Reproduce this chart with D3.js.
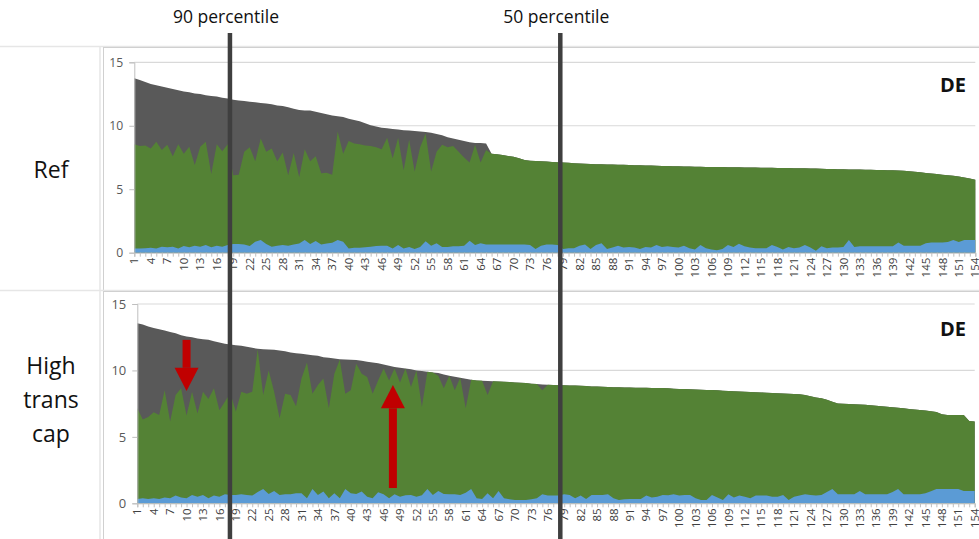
<!DOCTYPE html>
<html>
<head>
<meta charset="utf-8">
<script src="https://cdn.jsdelivr.net/npm/d3@7"></script>
<style>
  body { margin: 0; background: #fff; }
  svg { display: block; font-family: "Open Sans", sans-serif; }
</style>
</head>
<body>
<svg id="chart" width="979" height="539"></svg>
<script>
// categories 1..154, one label every 3rd
var categories = d3.range(1, 155);
var yTicks = [0, 5, 10, 15];

// Ref scenario: stacked levels
var refTotal = [
  13.75, 13.6, 13.45, 13.3, 13.2, 13.1, 13.0, 12.9, 12.8, 12.7,
  12.65, 12.55, 12.5, 12.4, 12.35, 12.3, 12.2, 12.15, 12.05, 12.0,
  11.95, 11.9, 11.85, 11.8, 11.75, 11.7, 11.6, 11.55, 11.45, 11.35,
  11.25, 11.2, 11.2, 11.1, 11.0, 10.9, 10.8, 10.75, 10.7, 10.55,
  10.45, 10.35, 10.2, 10.05, 9.95, 9.85, 9.8, 9.75, 9.7, 9.65,
  9.62, 9.58, 9.55, 9.5, 9.45, 9.35, 9.25, 9.1, 9.0, 8.9,
  8.8, 8.7, 8.65, 8.65, 8.6, 7.8, 7.75, 7.7, 7.62, 7.55,
  7.45, 7.3, 7.25, 7.22, 7.2, 7.18, 7.15, 7.12, 7.1, 7.08,
  7.05, 7.02, 7.0, 6.98, 6.97, 6.96, 6.95, 6.94, 6.93, 6.92,
  6.9, 6.89, 6.88, 6.87, 6.86, 6.85, 6.84, 6.83, 6.82, 6.81,
  6.8, 6.79, 6.78, 6.77, 6.76, 6.76, 6.75, 6.75, 6.74, 6.74,
  6.73, 6.72, 6.72, 6.71, 6.7, 6.7, 6.69, 6.68, 6.68, 6.67,
  6.66, 6.66, 6.65, 6.64, 6.63, 6.62, 6.6, 6.6, 6.58, 6.57,
  6.56, 6.55, 6.55, 6.54, 6.53, 6.52, 6.51, 6.5, 6.5, 6.48,
  6.45, 6.42, 6.38, 6.33, 6.28, 6.24, 6.2, 6.15, 6.1, 6.06,
  6.0, 5.93, 5.85, 5.75
];
var refGreen = [
  8.55, 8.4, 8.45, 8.2, 8.75, 8.1, 8.5, 7.6, 8.55, 7.8,
  8.35, 6.9, 8.35, 8.75, 6.2, 8.55, 8.0, 8.55, 6.1, 6.15,
  7.95, 8.3, 7.2, 9.0, 7.95, 8.2, 7.2, 7.9, 6.1, 7.85,
  5.95, 8.15, 7.2, 7.6, 6.25, 6.3, 6.15, 9.55, 7.8, 8.8,
  8.6, 8.55, 8.45, 8.4, 8.3, 8.15, 9.05, 7.45, 9.05, 6.5,
  8.9, 6.4, 8.3, 9.4, 6.4, 7.95, 8.5, 8.3, 8.4, 7.95,
  7.5, 7.1, 8.5, 7.1, 8.1, 7.8, 7.75, 7.7, 7.62, 7.55,
  7.45, 7.3, 7.25, 7.22, 7.2, 7.18, 7.15, 7.12, 7.1, 7.08,
  7.05, 7.02, 7.0, 6.98, 6.97, 6.96, 6.95, 6.94, 6.93, 6.92,
  6.9, 6.89, 6.88, 6.87, 6.86, 6.85, 6.84, 6.83, 6.82, 6.81,
  6.8, 6.79, 6.78, 6.77, 6.76, 6.76, 6.75, 6.75, 6.74, 6.74,
  6.73, 6.72, 6.72, 6.71, 6.7, 6.7, 6.69, 6.68, 6.68, 6.67,
  6.66, 6.66, 6.65, 6.64, 6.63, 6.62, 6.6, 6.6, 6.58, 6.57,
  6.56, 6.55, 6.55, 6.54, 6.53, 6.52, 6.51, 6.5, 6.5, 6.48,
  6.45, 6.42, 6.38, 6.33, 6.28, 6.24, 6.2, 6.15, 6.1, 6.06,
  6.0, 5.93, 5.85, 5.75
];
var refBlue = [
  0.34, 0.34, 0.36, 0.39, 0.34, 0.47, 0.42, 0.47, 0.34, 0.52,
  0.42, 0.55, 0.47, 0.6, 0.42, 0.55, 0.47, 0.6, 0.68, 0.68,
  0.65, 0.52, 0.87, 1.0, 0.68, 0.47, 0.55, 0.6, 0.55, 0.65,
  0.73, 1.0, 0.68, 0.92, 0.65, 0.73, 0.78, 1.0, 0.87, 0.34,
  0.39, 0.39, 0.42, 0.47, 0.52, 0.55, 0.55, 0.34, 0.6, 0.34,
  0.45, 0.3, 0.45, 0.9, 0.55, 0.75, 0.45, 0.45, 0.5, 0.5,
  0.55, 0.95, 0.6, 0.75, 0.65, 0.65, 0.65, 0.65, 0.65, 0.65,
  0.65, 0.65, 0.6, 0.3, 0.55, 0.65, 0.65, 0.6, 0.3, 0.35,
  0.35, 0.55, 0.65, 0.3, 0.6, 0.75, 0.3, 0.4, 0.55, 0.4,
  0.45, 0.4, 0.3, 0.45, 0.4, 0.6, 0.45, 0.5, 0.45, 0.4,
  0.55, 0.35, 0.25, 0.6, 0.35, 0.25, 0.2, 0.3, 0.6, 0.45,
  0.7, 0.5, 0.4, 0.35, 0.35, 0.35, 0.6, 0.45, 0.25, 0.45,
  0.35, 0.4, 0.6, 0.4, 0.15, 0.5, 0.35, 0.4, 0.4, 0.45,
  1.0, 0.45, 0.5, 0.5, 0.5, 0.5, 0.5, 0.5, 0.5, 0.8,
  0.55, 0.55, 0.55, 0.55, 0.75, 0.8, 0.8, 0.8, 0.85, 1.0,
  0.85, 1.0, 1.0, 1.0
];

// High trans cap scenario
var hiTotal = [
  13.55, 13.45, 13.3, 13.2, 13.1, 13.0, 12.9, 12.8, 12.65, 12.55,
  12.5, 12.4, 12.35, 12.3, 12.2, 12.1, 12.0, 11.95, 11.9, 11.85,
  11.78, 11.7, 11.63, 11.6, 11.58, 11.55, 11.5, 11.45, 11.35, 11.3,
  11.25, 11.2, 11.15, 11.1, 11.0, 10.95, 10.9, 10.85, 10.82, 10.8,
  10.78, 10.72, 10.65, 10.6, 10.55, 10.45, 10.35, 10.25, 10.2, 10.15,
  10.08, 10.0, 9.95, 9.9, 9.85, 9.8, 9.7, 9.6, 9.52, 9.45,
  9.38, 9.3, 9.25, 9.22, 9.2, 9.18, 9.17, 9.15, 9.13, 9.1,
  9.08, 9.05, 9.0, 8.97, 8.95, 8.92, 8.9, 8.89, 8.88, 8.87,
  8.86, 8.84, 8.82, 8.8, 8.79, 8.77, 8.76, 8.74, 8.73, 8.72,
  8.71, 8.7, 8.7, 8.69, 8.68, 8.68, 8.67, 8.65, 8.63, 8.61,
  8.6, 8.58, 8.56, 8.54, 8.53, 8.52, 8.5, 8.48, 8.46, 8.44,
  8.42, 8.4, 8.38, 8.36, 8.34, 8.32, 8.3, 8.28, 8.26, 8.24,
  8.22, 8.2, 8.15, 8.05, 7.97, 7.9, 7.8, 7.65, 7.52, 7.5,
  7.48, 7.46, 7.44, 7.42, 7.38, 7.34, 7.3, 7.26, 7.22, 7.19,
  7.15, 7.1, 7.06, 7.02, 6.98, 6.93, 6.88, 6.7, 6.65, 6.65,
  6.65, 6.64, 6.2, 6.15
];
var hiGreen = [
  7.15, 6.3, 6.5, 6.85, 6.65, 8.5, 6.15, 8.15, 8.65, 6.6,
  8.4, 6.75, 8.4, 7.85, 8.65, 7.0, 7.65, 8.3, 6.9, 8.4,
  8.25, 8.4, 11.6, 8.15, 10.0, 8.4, 6.4, 8.25, 8.15, 7.3,
  9.4, 10.6, 8.25, 8.9, 9.4, 7.15, 9.75, 10.8, 8.25, 8.5,
  10.5, 9.75, 9.5, 8.25, 9.25, 10.15, 9.25, 10.15, 9.1, 10.15,
  8.75, 10.0, 7.25, 9.9, 9.85, 9.6, 8.65, 9.6, 8.5, 9.45,
  7.15, 9.3, 9.25, 9.22, 8.15, 9.18, 9.17, 9.15, 9.13, 9.1,
  9.08, 9.05, 9.0, 8.97, 8.5, 8.92, 8.9, 8.89, 8.88, 8.87,
  8.86, 8.84, 8.82, 8.8, 8.79, 8.77, 8.76, 8.74, 8.73, 8.72,
  8.71, 8.7, 8.7, 8.69, 8.68, 8.68, 8.67, 8.65, 8.63, 8.61,
  8.6, 8.58, 8.56, 8.54, 8.53, 8.52, 8.5, 8.48, 8.46, 8.44,
  8.42, 8.4, 8.38, 8.36, 8.34, 8.32, 8.3, 8.28, 8.26, 8.24,
  8.22, 8.2, 8.15, 8.05, 7.97, 7.9, 7.8, 7.65, 7.52, 7.5,
  7.48, 7.46, 7.44, 7.42, 7.38, 7.34, 7.3, 7.26, 7.22, 7.19,
  7.15, 7.1, 7.06, 7.02, 6.98, 6.93, 6.88, 6.7, 6.65, 6.65,
  6.65, 6.64, 6.2, 6.15
];
var hiBlue = [
  0.33, 0.38, 0.33, 0.38, 0.33, 0.43, 0.38, 0.58, 0.43, 0.38,
  0.63, 0.5, 0.63, 0.38, 0.58, 0.5, 0.68, 0.63, 0.63, 0.68,
  0.63, 0.58, 0.85, 1.08, 0.7, 0.93, 0.63, 0.68, 0.68, 0.75,
  0.75, 0.38, 1.08, 0.63, 0.88, 0.38, 0.75, 0.38, 1.08, 0.75,
  0.7, 0.88, 0.5, 0.38, 0.83, 0.68, 0.38, 0.68, 0.5, 0.6,
  0.63, 0.5, 0.6, 1.08, 0.63, 0.93, 0.7, 0.68, 0.68, 0.63,
  0.8, 1.08, 0.38, 0.33, 0.75, 0.38, 0.93, 0.38, 0.3, 0.25,
  0.25, 0.25, 0.3, 0.38, 0.68, 0.58, 0.58, 0.58, 0.68, 0.63,
  0.38, 0.58, 0.33, 0.63, 0.63, 0.63, 0.68, 0.38, 0.25, 0.3,
  0.33, 0.33, 0.33, 0.58, 0.43, 0.5, 0.63, 0.6, 0.68, 0.58,
  0.63, 0.63, 0.38, 0.25, 0.25, 0.63, 0.43, 0.25, 0.68, 0.43,
  0.58, 0.5, 0.38, 0.58, 0.58, 0.58, 0.5, 0.5, 0.63, 0.25,
  0.5, 0.58, 0.68, 0.63, 0.58, 0.63, 0.85, 1.08, 0.68, 0.68,
  0.68, 0.68, 0.93, 0.68, 0.68, 0.68, 0.68, 0.68, 0.85, 1.08,
  0.68, 0.68, 0.68, 0.68, 0.75, 0.9, 1.08, 1.08, 1.08, 1.08,
  1.08, 0.93, 0.93, 0.93
];

// percentile markers (category positions)
var percentiles = [{ label: "90 percentile", cat: 18.4, dx: -4 }, { label: "50 percentile", cat: 78.5, dx: -4 }];

var colors = { grey: "#595959", green: "#548235", blue: "#5b9bd5", grid: "#d9d9d9", axis: "#bfbfbf", text: "#595959" };

var panels = [
  { title: ["Ref"], total: refTotal, green: refGreen, blue: refBlue,
    cellTop: 47, cellBottom: 290, left: 134.3, right: 975.3, bottom: 252.7, top: 62.3,
    tickFont: 12.2, titleY: [178], deY: 92 },
  { title: ["High", "trans", "cap"], total: hiTotal, green: hiGreen, blue: hiBlue,
    cellTop: 291, cellBottom: 560, left: 137.3, right: 974.7, bottom: 503.3, top: 304,
    tickFont: 13, titleY: [374, 408, 442], deY: 336 }
];

var svg = d3.select("#chart");

panels.forEach(function(p) {
  var x = d3.scaleLinear().domain([1, 154]).range([p.left, p.right]);
  var y = d3.scaleLinear().domain([0, 15]).range([p.bottom, p.top]);
  p.x = x; p.y = y;

  // table cell + chart frame
  svg.append("line").attr("x1", 0).attr("x2", 979).attr("y1", p.cellTop - 0.5).attr("y2", p.cellTop - 0.5)
    .attr("stroke", "#e6e6e6").attr("stroke-width", 1.5);
  svg.append("line").attr("x1", 100).attr("x2", 100).attr("y1", p.cellTop).attr("y2", p.cellBottom)
    .attr("stroke", "#e6e6e6").attr("stroke-width", 1.5);
  svg.append("rect").attr("x", 103.5).attr("y", p.cellTop + 0.5).attr("width", 900).attr("height", 400)
    .attr("fill", "#fff").attr("stroke", "#d0d0d0");

  // gridlines
  svg.append("g").selectAll("line").data(yTicks.filter(function(d) { return d > 0; })).join("line")
    .attr("x1", p.left).attr("x2", p.right)
    .attr("y1", function(d) { return y(d); }).attr("y2", function(d) { return y(d); })
    .attr("stroke", colors.grid).attr("stroke-width", 1.2);

  var g = svg.append("g");
  function drawArea(vals, color) {
    var area = d3.area()
      .x(function(d, i) { return x(categories[i]); })
      .y0(y(0))
      .y1(function(d) { return y(d); });
    g.append("path").datum(vals).attr("d", area).attr("fill", color);
  }
  drawArea(p.total, colors.grey);
  drawArea(p.green, colors.green);
  drawArea(p.blue, colors.blue);

  // y axis
  var yAxis = d3.axisLeft(y).tickValues(yTicks).tickSize(5).tickPadding(6);
  var ya = svg.append("g").attr("transform", "translate(" + p.left + ",0)").call(yAxis);
  ya.select(".domain").attr("stroke", colors.axis);
  ya.selectAll(".tick line").attr("stroke", colors.axis);
  ya.selectAll("text").attr("fill", colors.text).attr("font-size", p.tickFont).attr("font-family", "Open Sans");

  // x axis: tick at every category, label at every 3rd
  var xAxis = d3.axisBottom(x).tickValues(categories).tickSize(4)
    .tickFormat(function(d) { return (d - 1) % 3 === 0 ? d : ""; });
  var xa = svg.append("g").attr("transform", "translate(0," + p.bottom + ")").call(xAxis);
  xa.select(".domain").attr("stroke", colors.axis);
  xa.selectAll(".tick line").attr("stroke", colors.axis);
  xa.selectAll("text")
    .attr("fill", "#404040").attr("font-size", 11.5).attr("font-family", "Open Sans")
    .attr("text-anchor", "end").attr("dy", "0.32em")
    .attr("transform", "translate(0,5) rotate(-90)")
    .attr("x", 0).attr("y", 0);

  // DE label
  svg.append("text").attr("x", 966).attr("y", p.deY).attr("text-anchor", "end")
    .attr("font-size", 20).attr("font-weight", "bold").attr("fill", "#111").text("DE");

  // row title
  svg.append("g").selectAll("text").data(p.title).join("text")
    .attr("x", 51).attr("y", function(d, i) { return p.titleY[i]; })
    .attr("text-anchor", "middle").attr("font-size", 23).attr("fill", "#111")
    .text(function(d) { return d; });
});

// percentile lines over both panels
var px = panels[0].x;
percentiles.forEach(function(pc) {
  var cx = px(pc.cat);
  svg.append("line").attr("x1", cx).attr("x2", cx).attr("y1", 33).attr("y2", 539)
    .attr("stroke", "#3f3f3f").attr("stroke-width", 4.5);
  svg.append("text").attr("x", cx + pc.dx).attr("y", 23).attr("text-anchor", "middle")
    .attr("font-size", 17.5).attr("fill", "#111").text(pc.label);
});

// red arrows on the lower panel
var lo = panels[1];
function arrow(cat, fromV, baseV, tipV) {
  var ax = lo.x(cat), y0 = lo.y(fromV), yb = lo.y(baseV), yt = lo.y(tipV);
  svg.append("rect").attr("x", ax - 4).attr("width", 8)
    .attr("y", Math.min(y0, yb)).attr("height", Math.abs(yb - y0)).attr("fill", "#c00000");
  svg.append("path")
    .attr("d", "M" + (ax - 12) + "," + yb + "L" + (ax + 12) + "," + yb + "L" + ax + "," + yt + "Z")
    .attr("fill", "#c00000");
}
arrow(10, 12.3, 10.2, 8.45);
arrow(47.7, 1.15, 7.15, 8.9);
</script>
</body>
</html>
